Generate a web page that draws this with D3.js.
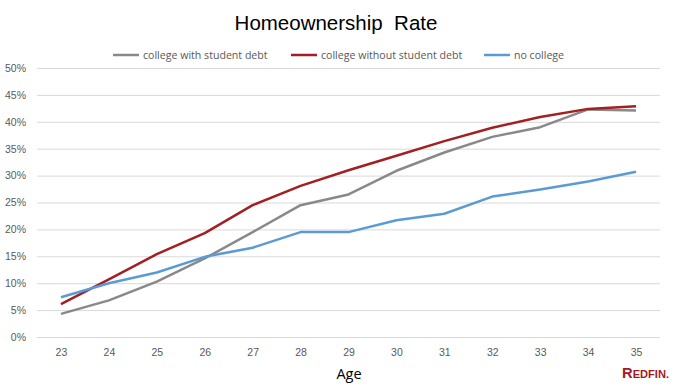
<!DOCTYPE html>
<html>
<head>
<meta charset="utf-8">
<script src="https://cdn.jsdelivr.net/npm/d3@7"></script>
<style>
  body { margin: 0; background: #fff; }
  svg { display: block; font-family: "Open Sans", "Noto Sans", sans-serif; }
</style>
</head>
<body>
<svg id="chart" width="673" height="384"></svg>
<script>
const ages = [23, 24, 25, 26, 27, 28, 29, 30, 31, 32, 33, 34, 35]
const withDebt = [4.3, 6.8, 10.3, 14.6, 19.5, 24.5, 26.5, 30.9, 34.3, 37.2, 39.0, 42.3, 42.1]
const withoutDebt = [6.1, 10.7, 15.4, 19.3, 24.5, 28.1, 31.0, 33.7, 36.4, 38.9, 40.9, 42.4, 42.9]
const noCollege = [7.4, 10.0, 12.0, 14.9, 16.6, 19.5, 19.5, 21.7, 22.9, 26.1, 27.4, 28.9, 30.7]
const yTicks = [0, 5, 10, 15, 20, 25, 30, 35, 40, 45, 50]

const series = [
    { name: 'college with student debt', values: withDebt, color: '#898989' },
    { name: 'college without student debt', values: withoutDebt, color: '#a21f23' },
    { name: 'no college', values: noCollege, color: '#5b9bd5' }
]

const svg = d3.select('#chart')
const margin = { left: 37, right: 13, top: 68, bottom: 47 }
const width = 673 - margin.left - margin.right
const height = 384 - margin.top - margin.bottom

const x = d3.scalePoint()
    .domain(ages)
    .range([0, width])
    .padding(0.5)

const y = d3.scaleLinear()
    .domain([0, 50])
    .range([height, 0])

const g = svg.append('g')
    .attr('transform', `translate(${margin.left},${margin.top})`)

// gridlines + y labels
const yAxis = g.append('g')
    .call(d3.axisLeft(y).tickValues(yTicks).tickSize(-width).tickFormat(d => d + '%'))
yAxis.select('.domain').remove()
yAxis.selectAll('line').attr('stroke', '#d9d9d9')
yAxis.selectAll('text')
    .attr('x', -11)
    .attr('fill', '#595959')
    .style('font-size', '10.5px')

const xAxis = g.append('g')
    .attr('transform', `translate(0,${height})`)
    .call(d3.axisBottom(x).tickSize(0).tickPadding(12))
xAxis.select('.domain').remove()
xAxis.selectAll('text')
    .attr('fill', '#595959')
    .style('font-size', '10.5px')

const line = d3.line()
    .x((d, i) => x(ages[i]))
    .y(d => y(d))

g.selectAll('path.series')
    .data(series)
    .join('path')
    .attr('class', 'series')
    .attr('fill', 'none')
    .attr('stroke', d => d.color)
    .attr('stroke-width', 2.5)
    .attr('stroke-linejoin', 'round')
    .attr('d', d => line(d.values))

// title
svg.append('text')
    .attr('x', 336)
    .attr('y', 30)
    .attr('text-anchor', 'middle')
    .style('font-family', '"Liberation Sans", Arial, sans-serif')
    .style('font-size', '20.5px')
    .attr('fill', '#000')
    .attr('xml:space', 'preserve')
    .text('Homeownership  Rate')

// legend
const legendX = [113, 291, 484]
const legend = svg.append('g')
    .selectAll('g')
    .data(series)
    .join('g')
    .attr('transform', (d, i) => `translate(${legendX[i]},55)`)
legend.append('line')
    .attr('x1', 0).attr('x2', 26)
    .attr('stroke', d => d.color)
    .attr('stroke-width', 2.5)
legend.append('text')
    .attr('x', 30)
    .attr('y', 4)
    .attr('fill', '#595959')
    .style('font-size', '10.6px')
    .text(d => d.name)

// axis title
svg.append('text')
    .attr('x', 349)
    .attr('y', 379)
    .attr('text-anchor', 'middle')
    .style('font-size', '14.5px')
    .attr('fill', '#000')
    .text('Age')

// logo
const logo = svg.append('text')
    .attr('x', 622)
    .attr('y', 378)
    .attr('textLength', 47)
    .attr('lengthAdjust', 'spacingAndGlyphs')
    .style('font-family', '"Liberation Sans Narrow", "Liberation Sans", sans-serif')
    .style('font-weight', 'bold')
    .attr('fill', '#a5191f')
logo.append('tspan').style('font-size', '14px').text('R')
logo.append('tspan').style('font-size', '10.5px').text('EDFIN.')
</script>
</body>
</html>
